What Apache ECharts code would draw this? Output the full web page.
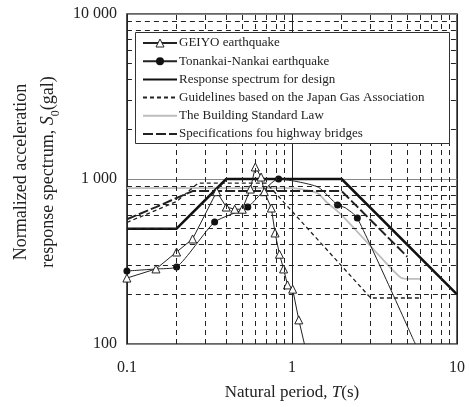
<!DOCTYPE html>
<html><head><meta charset="utf-8">
<script src="https://cdn.jsdelivr.net/npm/echarts@6/dist/echarts.min.js"></script>
<style>html,body{margin:0;padding:0;background:#fff}#c{width:469px;height:407px}</style>
</head><body><div id="c"></div>
<script>
// ---- data ----
const seriesNames = ['GEIYO earthquake','Tonankai-Nankai earthquake','Response spectrum for design','Guidelines based on the Japan Gas Association','The Building Standard Law','Specifications fou highway bridges'];
const geiyoT = [0.1,0.15,0.2,0.25,0.35,0.4,0.45,0.5,0.56,0.6,0.65,0.68,0.75,0.79,0.84,0.89,0.94,1.01,1.1,1.19];
const geiyoV = [251,285,361,433,838,676,656,656,869,1183,1028,838,667,471,350,285,228,215,140,100];
const geiyoMarked = [1,1,1,1,1,1,1,1,1,1,1,1,1,1,1,1,1,1,1,0];
const tonT = [0.1,0.15,0.2,0.34,0.54,0.83,1.1,1.45,1.89,2.1,2.49,5.59];
const tonV = [277,285,293,548,676,1000,960,890,695,670,580,100];
const tonMarked = [1,0,1,1,1,1,0,0,1,0,1,0];
const designT = [0.1,0.2,0.4,2,10];
const designV = [500,500,1000,1000,200];
const gasT = [0.1,0.2,0.27,0.7,3,6];
const gasV = [545,730,945,945,190,190];
const bslT = [0.1,1.0,1.2,1.43,1.63,1.94,3.03,4.5,5,6];
const bslV = [880,880,860,820,720,623,387,255,248,248];
const hwT = [0.1,0.15,0.2,0.25,2,5];
const hwV = [570,676,767,845,845,338];
const xMinorGrid = [0.2,0.3,0.4,0.5,0.6,0.7,0.8,0.9,2,3,4,5,6,7,8,9];
const yMinorGrid = [200,300,400,500,600,700,800,900,2000,3000,4000,5000,6000,7000,8000,9000];
const yTickText = {100:'100',1000:'1 000',10000:'10 000'};

const zip = (a,b,m)=>a.map((t,i)=>{const o={value:[t,b[i]]}; if(m && !m[i]) o.symbol='none'; return o;});
const FONT = '"Liberation Serif","DejaVu Serif",serif';
const hidden = {opacity:0,color:'rgba(0,0,0,0)',borderWidth:0};

const chart = echarts.init(document.getElementById('c'));
chart.setOption({
  animation:false,
  backgroundColor:'#fff',
  textStyle:{fontFamily:FONT},
  grid:{left:109,right:12,top:14,bottom:63,show:true,borderColor:'#333',borderWidth:1.5,backgroundColor:'transparent'},
  graphic:[{type:'rect',left:135,top:32,z:50,shape:{width:314,height:111},style:{fill:'#fff',stroke:'#333',lineWidth:1}}],
  legend:{
    orient:'vertical',left:135,top:32,z:100,
    padding:[4,21,3,7],itemGap:4.2,itemWidth:34,itemHeight:10,
    textStyle:{fontFamily:FONT,fontSize:13,color:'#222',lineHeight:14,padding:[0,0,0,-3]},
    data:[
      {name:seriesNames[0],itemStyle:{color:'#fff',borderColor:'#222',borderWidth:1}},
      {name:seriesNames[1],itemStyle:{color:'#111'}},
      {name:seriesNames[2],itemStyle:hidden},
      {name:seriesNames[3],itemStyle:hidden},
      {name:seriesNames[4],itemStyle:hidden},
      {name:seriesNames[5],itemStyle:hidden}
    ]
  },
  xAxis:{type:'log',logBase:10,min:0.1,max:10,
    axisLine:{show:false},axisTick:{show:false},
    axisLabel:{fontFamily:FONT,fontSize:16,color:'#222',margin:16,formatter:v=>String(v)},
    splitLine:{show:true,lineStyle:{color:'#222',width:1}},
    name:'Natural period, {i|T}(s)',nameLocation:'middle',nameGap:40,
    nameTextStyle:{fontFamily:FONT,fontSize:17,color:'#222',rich:{i:{fontFamily:FONT,fontSize:17,fontStyle:'italic',color:'#222'}}}
  },
  yAxis:{type:'log',logBase:10,min:100,max:10000,
    axisLine:{show:false},axisTick:{show:false},
    axisLabel:{fontFamily:FONT,fontSize:16,color:'#222',margin:10,formatter:v=>yTickText[Math.round(v)]||''},
    splitLine:{show:true,lineStyle:{color:'#888',width:1}},
    name:'Normalized acceleration\nresponse spectrum, {i|S}{s|0}{n|(gal)}',nameLocation:'middle',nameGap:62,nameRotate:90,
    nameTextStyle:{fontFamily:FONT,fontSize:18,color:'#222',lineHeight:27,padding:[0,0,0,14],
      rich:{i:{fontFamily:FONT,fontSize:18,fontStyle:'italic',color:'#222',lineHeight:27},
            s:{fontFamily:FONT,fontSize:12,color:'#222',verticalAlign:'bottom',lineHeight:27},
            n:{fontFamily:FONT,fontSize:18,color:'#222',lineHeight:27}}}
  },
  series:[
    {name:'grid',type:'line',data:[],silent:true,z:1,
      markLine:{silent:true,symbol:'none',label:{show:false},animation:false,
        lineStyle:{color:'#222',type:[5,4],width:1},
        data:xMinorGrid.map(v=>({xAxis:v})).concat(yMinorGrid.map(v=>({yAxis:v})))}},
    {name:seriesNames[4],type:'line',data:zip(bslT,bslV),symbol:'none',smooth:0.3,lineStyle:{color:'#bdbdbd',width:1.8},itemStyle:{color:'#bdbdbd'}},
    {name:seriesNames[3],type:'line',data:zip(gasT,gasV),symbol:'none',lineStyle:{color:'#222',width:1.3,type:[4,3]},itemStyle:{color:'#222'}},
    {name:seriesNames[5],type:'line',data:zip(hwT,hwV),symbol:'none',lineStyle:{color:'#222',width:2,type:[10,3]},itemStyle:{color:'#222'}},
    {name:seriesNames[2],type:'line',data:zip(designT,designV),symbol:'none',lineStyle:{color:'#111',width:2.5},itemStyle:{color:'#111'}},
    {name:seriesNames[1],type:'line',data:zip(tonT,tonV,tonMarked),symbol:'circle',symbolSize:7,smooth:0.2,lineStyle:{color:'#222',width:1},itemStyle:{color:'#111'}},
    {name:seriesNames[0],type:'line',data:zip(geiyoT,geiyoV,geiyoMarked),symbol:'triangle',symbolSize:8,lineStyle:{color:'#222',width:1},itemStyle:{color:'#fff',borderColor:'#222',borderWidth:1}}
  ]
});
</script></body></html>
